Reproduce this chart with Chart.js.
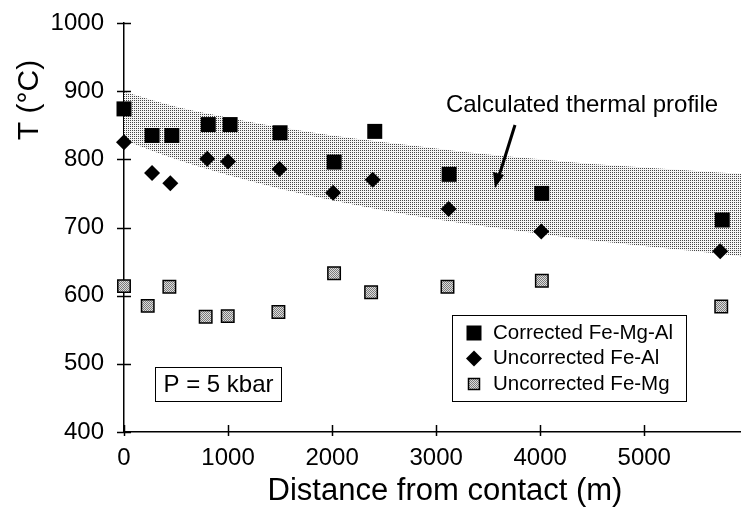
<!DOCTYPE html>
<html>
<head>
<meta charset="utf-8">
<script src="https://cdn.jsdelivr.net/npm/chart.js@4/dist/chart.umd.min.js"></script>
<style>
  html, body { margin: 0; padding: 0; background: #fff; }
  #wrap { width: 741px; height: 510px; }
</style>
</head>
<body>
<div id="wrap"><canvas id="chart" width="741" height="510"></canvas></div>
<script>
// values
const correctedX = [0, 270, 460, 810, 1020, 1500, 2020, 2410, 3125, 4015, 5750];
const correctedT = [874, 835, 835, 851, 851, 839, 796, 841, 778, 750, 711];

const feAlX = [0, 270, 445, 800, 1000, 1495, 2010, 2390, 3120, 4010, 5730];
const feAlT = [825, 780, 765, 801, 797, 786, 751, 770, 727, 694, 665];

const feMgX = [0, 228, 436, 785, 997, 1484, 2019, 2375, 3109, 4016, 5740];
const feMgT = [614, 585, 613, 569, 570, 576, 633, 605, 613, 622, 584];

// calculated thermal profile (shaded band)
const profileX = [0, 500, 1000, 1500, 2000, 2500, 3000, 3500, 4000, 4500, 5000, 5500, 5930];
const profileUpper = [899, 877, 861, 847, 835, 825, 816, 807, 800, 793, 788, 783, 779];
const profileLower = [828, 800, 777, 757, 740, 725, 712, 701, 691, 681, 673, 665, 658];

const xTicks = [0, 1000, 2000, 3000, 4000, 5000];
const yTicks = [400, 500, 600, 700, 800, 900, 1000];

const FONT = "'Liberation Sans', Arial, sans-serif";

// stipple fills like the original
function makePattern(bg, dot, checker) {
  const pc = document.createElement('canvas');
  pc.width = 2; pc.height = 2;
  const p = pc.getContext('2d');
  p.fillStyle = bg; p.fillRect(0, 0, 2, 2);
  p.fillStyle = dot; p.fillRect(0, 0, 1, 1);
  if (checker) p.fillRect(1, 1, 1, 1);
  return p.createPattern(pc, 'repeat');
}
const stipple = makePattern('#f4f4f4', '#454545', false);
const markerFill = makePattern('#dddddd', '#7a7a7a', true);

const pts = (xs, ys) => xs.map((x, i) => ({ x: x, y: ys[i] }));

const extras = {
  id: 'extras',
  afterDraw(chart) {
    const c = chart.ctx;
    const xs = chart.scales.x, ys = chart.scales.y;
    const ax = xs.getPixelForValue(0), ay = ys.getPixelForValue(400);
    c.save();
    c.strokeStyle = '#000';
    c.lineWidth = 1.5;
    // ticks crossing the axes
    yTicks.forEach(v => {
      const py = Math.round(ys.getPixelForValue(v)) + 0.5;
      c.beginPath(); c.moveTo(ax - 7, py); c.lineTo(ax + 7, py); c.stroke();
    });
    xTicks.forEach(v => {
      const px = Math.round(xs.getPixelForValue(v)) + 0.5;
      c.beginPath(); c.moveTo(px, ay - 7); c.lineTo(px, ay + 4); c.stroke();
    });

    // axis titles
    c.fillStyle = '#000';
    c.font = '31px ' + FONT;
    c.textAlign = 'center';
    c.textBaseline = 'middle';
    c.fillText('Distance from contact (m)', 445, 491);
    c.save();
    c.translate(30, 100);
    c.rotate(-Math.PI / 2);
    c.font = '30px ' + FONT;
    c.fillText('T (°C)', 0, 0);
    c.restore();

    // annotation
    c.font = '24px ' + FONT;
    c.fillText('Calculated thermal profile', 582, 105);
    c.lineWidth = 3;
    c.beginPath(); c.moveTo(515, 125); c.lineTo(499, 176); c.stroke();
    c.beginPath();
    c.moveTo(495, 188); c.lineTo(493, 172); c.lineTo(504, 175); c.closePath();
    c.fill();

    // pressure box
    c.lineWidth = 1;
    c.strokeRect(155.5, 367.5, 126, 34);
    c.font = '24px ' + FONT;
    c.fillText('P = 5 kbar', 218.5, 385);

    // legend
    c.strokeRect(452.5, 315.5, 234, 86);
    c.font = '20.5px ' + FONT;
    c.textAlign = 'left';
    const lx = 474;
    let ly = 333;
    c.fillRect(lx - 7.5, ly - 7.5, 15, 15);
    c.fillText('Corrected Fe-Mg-Al', 493, ly);
    ly = 358.5;
    c.beginPath(); c.moveTo(lx, ly - 8); c.lineTo(lx + 8, ly); c.lineTo(lx, ly + 8); c.lineTo(lx - 8, ly); c.closePath(); c.fill();
    c.fillText('Uncorrected Fe-Al', 493, ly);
    ly = 384;
    c.fillStyle = markerFill;
    c.fillRect(lx - 5.5, ly - 5.5, 11, 11);
    c.lineWidth = 1.5;
    c.strokeRect(lx - 5.5, ly - 5.5, 11, 11);
    c.fillStyle = '#000';
    c.fillText('Uncorrected Fe-Mg', 493, ly);
    c.restore();
  }
};

new Chart(document.getElementById('chart'), {
  type: 'line',
  data: {
    datasets: [
      { label: 'Corrected Fe-Mg-Al', data: pts(correctedX, correctedT), showLine: false, clip: false,
        pointStyle: 'rect', pointRadius: 10.6, backgroundColor: '#000', borderColor: '#000', borderWidth: 0, order: 1 },
      { label: 'Uncorrected Fe-Al', data: pts(feAlX, feAlT), showLine: false, clip: false,
        pointStyle: 'rectRot', pointRadius: 8, backgroundColor: '#000', borderColor: '#000', borderWidth: 0, order: 2 },
      { label: 'Uncorrected Fe-Mg', data: pts(feMgX, feMgT), showLine: false, clip: false,
        pointStyle: 'rect', pointRadius: 8.8, backgroundColor: markerFill, borderColor: '#000', borderWidth: 1.5, order: 3 },
      { label: 'upper', data: pts(profileX, profileUpper), pointRadius: 0, borderWidth: 0,
        borderColor: 'rgba(0,0,0,0)', backgroundColor: stipple, fill: '+1', cubicInterpolationMode: 'monotone', order: 10 },
      { label: 'lower', data: pts(profileX, profileLower), pointRadius: 0, borderWidth: 0,
        borderColor: 'rgba(0,0,0,0)', backgroundColor: stipple, fill: false, cubicInterpolationMode: 'monotone', order: 11 }
    ]
  },
  options: {
    responsive: false,
    animation: false,
    layout: { autoPadding: false, padding: { top: 23, right: 0, left: 0, bottom: 0 } },
    plugins: { legend: { display: false }, tooltip: { enabled: false } },
    scales: {
      x: {
        type: 'linear', min: 0, max: 5930,
        afterFit: s => { s.height = 78; s.paddingLeft = 0; s.paddingRight = 0; },
        afterBuildTicks: s => { s.ticks = xTicks.map(v => ({ value: v })); },
        grid: { display: false, drawTicks: false },
        border: { display: true, color: '#000', width: 1.5 },
        ticks: { color: '#000', font: { family: FONT, size: 24 }, padding: 12, maxRotation: 0,
                 callback: v => String(v) }
      },
      y: {
        type: 'linear', min: 400, max: 1000,
        afterFit: s => { s.width = 124; s.paddingTop = 0; s.paddingBottom = 0; },
        afterBuildTicks: s => { s.ticks = yTicks.map(v => ({ value: v })); },
        grid: { display: false, drawTicks: false },
        border: { display: true, color: '#000', width: 1.5 },
        ticks: { color: '#000', font: { family: FONT, size: 24 }, padding: 20,
                 callback: v => String(v) }
      }
    }
  },
  plugins: [extras]
});
</script>
</body>
</html>
